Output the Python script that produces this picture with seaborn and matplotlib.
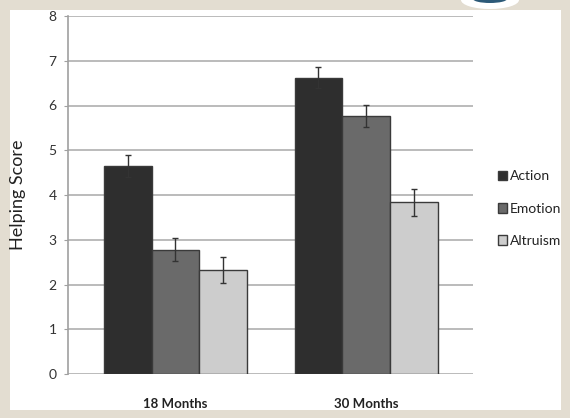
import matplotlib
matplotlib.use("Agg")
import matplotlib.pyplot as plt
from matplotlib.patches import Rectangle, Ellipse
import seaborn as sns
import pandas as pd

ages = ["18 Months", "30 Months"]
conditions = ["Action", "Emotion", "Altruism"]
action = [4.65, 6.62]
emotion = [2.78, 5.77]
altruism = [2.33, 3.84]
action_err = [0.24, 0.24]
emotion_err = [0.25, 0.25]
altruism_err = [0.29, 0.30]

rows = []
for cond, vals, errs in zip(conditions, [action, emotion, altruism],
                            [action_err, emotion_err, altruism_err]):
    for age, v, e in zip(ages, vals, errs):
        rows.append({"age": age, "condition": cond, "score": v, "err": e})
df = pd.DataFrame(rows)

sns.set_style("white")
plt.rcParams['font.family'] = ['Lato', 'DejaVu Sans']

fig = plt.figure(figsize=(5.7, 4.18), dpi=100)
fig.patch.set_facecolor("#e3ddd1")
# white panel
fig.patches.append(Rectangle((10 / 570, 1 - 410 / 418), 551 / 570, 400 / 418,
                             transform=fig.transFigure, facecolor="white",
                             edgecolor="none", zorder=-2))
# logo fragment at the top
fig.patches.append(Ellipse((490 / 570, 1 - 0 / 418), 58 / 570, 18 / 418,
                           transform=fig.transFigure, facecolor="white",
                           edgecolor="none", zorder=-2))
fig.patches.append(Ellipse((490 / 570, 1 + 1 / 418), 34 / 570, 8 / 418,
                           transform=fig.transFigure, facecolor="#2d5a78",
                           edgecolor="none", zorder=-1))

ax = fig.add_axes([67.6 / 570, 1 - 374 / 418, (473 - 67.6) / 570, (374 - 16) / 418])
ax.set_zorder(2)
ax.set_facecolor("none")

palette = {"Action": "#2e2e2e", "Emotion": "#6a6a6a", "Altruism": "#cdcdcd"}
sns.barplot(data=df, x="age", y="score", hue="condition", order=ages,
            hue_order=conditions, palette=palette, width=0.75, errorbar=None,
            edgecolor="#3a3a3a", linewidth=1.0, saturation=1, ax=ax, zorder=3)

# error bars on each bar
for container, cond in zip(ax.containers, conditions):
    sub = df[df["condition"] == cond].set_index("age").loc[ages]
    xs = [p.get_x() + p.get_width() / 2 for p in container.patches]
    ax.errorbar(xs, sub["score"], yerr=sub["err"], fmt="none", ecolor="#333333",
                elinewidth=1.0, capsize=2.5, capthick=1.0, zorder=4)

ax.set_ylim(0, 8)
ax.set_xlim(-0.565, 1.561)
ax.set_yticks(range(0, 9))
ax.set_xticks([0, 1])
ax.set_xticklabels(ages, fontweight="bold", fontsize=9.5, color="#222222")
ax.yaxis.grid(True, color="#b5b5b5", linewidth=1.3, zorder=0)
ax.set_axisbelow(True)
for s in ["top", "right", "bottom"]:
    ax.spines[s].set_visible(False)
ax.spines["left"].set_color("#a0a0a0")
ax.spines["left"].set_linewidth(1.2)
ax.tick_params(axis="y", length=3, color="#a0a0a0", labelsize=10, pad=5,
               labelcolor="#333333", left=True)
ax.tick_params(axis="x", length=0, pad=17)
ax.set_xlabel("")
ax.set_ylabel("Helping Score", fontsize=13, color="#222222", labelpad=16)

handles, labels = ax.get_legend_handles_labels()
ax.legend(handles, labels, loc="center left", bbox_to_anchor=(1.03, 0.462),
          frameon=False, fontsize=10, handlelength=0.7, handleheight=0.7,
          handletextpad=0.2, labelspacing=1.45, labelcolor="#222222")

fig.savefig("out.png", dpi=100, facecolor=fig.get_facecolor())
